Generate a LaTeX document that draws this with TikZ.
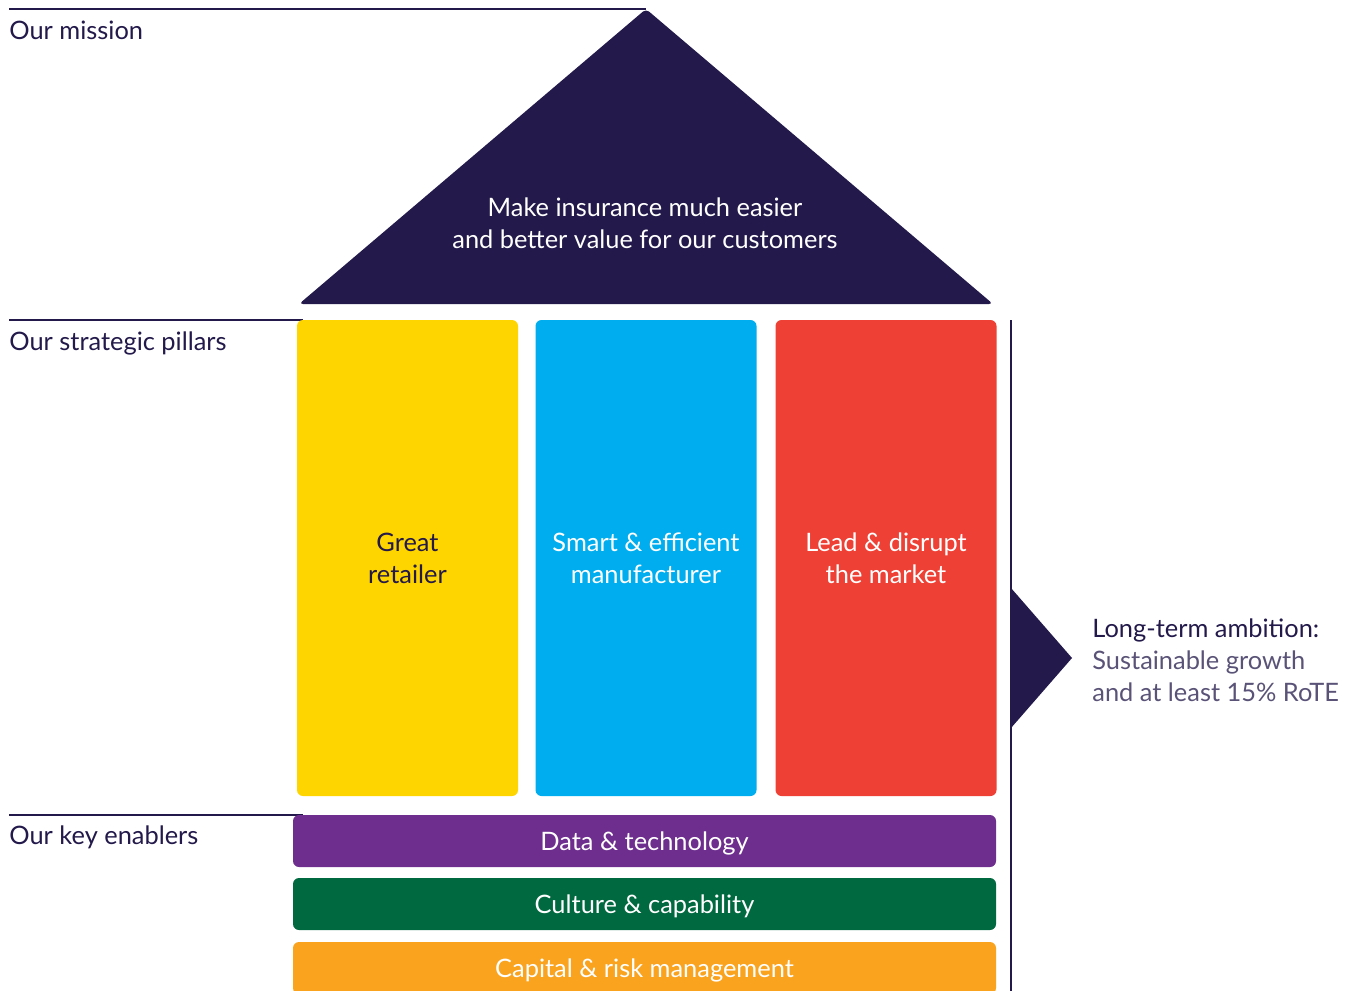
\documentclass[tikz,border=0pt]{standalone}
\usepackage{fontspec}
\setmainfont{Lato}
\usepackage{xcolor}

\definecolor{navy}{HTML}{23194A}
\definecolor{pillaryellow}{HTML}{FFD500}
\definecolor{pillarblue}{HTML}{00AEEF}
\definecolor{pillarred}{HTML}{EF4035}
\definecolor{enablerpurple}{HTML}{6D2E8E}
\definecolor{enablergreen}{HTML}{006940}
\definecolor{enablerorange}{HTML}{F9A31F}

\tikzset{
  pillar/.style={rounded corners=3pt, minimum width=110.5pt, minimum height=238pt,
    inner sep=0pt, text depth=0pt, align=center, font=\fontsize{12.7}{16}\selectfont},
  enabler/.style={rounded corners=3pt, minimum width=351.5pt, minimum height=26pt,
    inner sep=0pt, text depth=0pt, text=white, font=\fontsize{12.7}{16}\selectfont},
  sectionlabel/.style={anchor=north west, inner sep=0pt, text=navy,
    font=\fontsize{12.7}{16}\selectfont},
  rule/.style={draw=navy, line width=0.7pt}
}

\begin{document}
\begin{tikzpicture}[x=0.5pt, y=-0.5pt]
  \useasboundingbox (0,0) rectangle (1346,991);
  \clip (0,0) rectangle (1346,991);

  \coordinate (apex) at (646,9);
  \coordinate (roofleft) at (299,304);
  \coordinate (roofright) at (993,304);
  \fill[navy, rounded corners=2pt] (roofleft) -- (apex) -- (roofright) -- cycle;
  \node[text=white, align=center, font=\fontsize{12.7}{16}\selectfont] (mission) at (645,223)
    {Make insurance much easier\\and better value for our customers};

  \coordinate (missionrule) at (9,9);
  \draw[rule] (missionrule) -- (apex);
  \node[sectionlabel] (missionlabel) at (9,21) {Our mission};

  \coordinate (pillarrule) at (9,320);
  \coordinate (pillarruleend) at (303,320);
  \draw[rule] (pillarrule) -- (pillarruleend);
  \node[sectionlabel] (pillarlabel) at (9,331) {Our strategic pillars};

  \node[pillar, fill=pillaryellow, text=navy] (retailer) at (407.5,558) {Great\\retailer};
  \node[pillar, fill=pillarblue, text=white] (manufacturer) at (646,558) {Smart \& efficient\\manufacturer};
  \node[pillar, fill=pillarred, text=white] (market) at (886,558) {Lead \& disrupt\\the market};

  \coordinate (enablerrule) at (9,815);
  \coordinate (enablerruleend) at (303,815);
  \draw[rule] (enablerrule) -- (enablerruleend);
  \node[sectionlabel] (enablerlabel) at (9,825) {Our key enablers};

  \node[enabler, fill=enablerpurple] (data) at (644.5,841) {Data \& technology};
  \node[enabler, fill=enablergreen] (culture) at (644.5,904) {Culture \& capability};
  \node[enabler, fill=enablerorange] (capital) at (644.5,968) {Capital \& risk management};

  \coordinate (wallTop) at (1011,320);
  \coordinate (wallBottom) at (1011,995);
  \draw[rule] (wallTop) -- (wallBottom);
  \fill[navy] (1011,588) -- (1072,658) -- (1011,728) -- cycle;

  \node[anchor=west, align=left, inner sep=0pt, text=navy,
    font=\fontsize{12.7}{16}\selectfont] (ambition) at (1092,660)
    {Long-term ambition:\\\color{navy!75}Sustainable growth\\\color{navy!75}and at least 15\% RoTE};
\end{tikzpicture}
\end{document}
